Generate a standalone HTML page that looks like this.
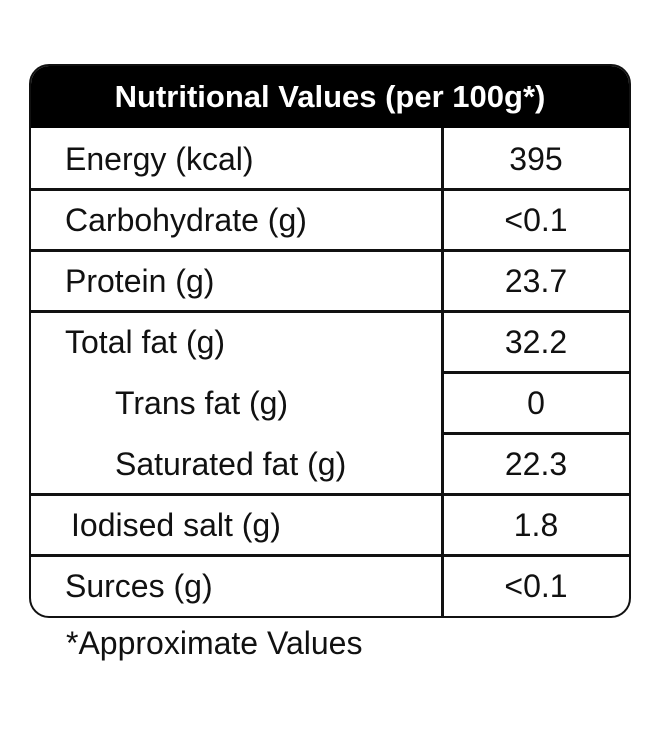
<!DOCTYPE html>
<html><head><meta charset="utf-8"><style>
body{margin:0;width:658px;height:734px;background:#fff;position:relative;font-family:"Liberation Sans Narrow","Liberation Sans",sans-serif;font-stretch:condensed;color:#111;overflow:hidden}
.t{position:absolute;left:29px;top:64px;width:598px;height:550px;border:2.5px solid #111;border-radius:20px;overflow:hidden}
.hd{position:absolute;left:0;top:0;width:100%;height:62px;background:#000;color:#fff;font-weight:bold;font-size:31px;text-align:center;line-height:62px}
.h{position:absolute;height:2.5px;background:#111}
.v{position:absolute;left:410px;top:62px;width:2.5px;height:490px;background:#111}
.l{position:absolute;font-size:32px;line-height:61px;height:61px}
.r{position:absolute;left:412px;width:186px;text-align:center;font-size:32px;line-height:61px;height:61px}
.n{position:absolute;left:66px;top:625px;font-size:32px}
</style></head><body>
<div class="t">
<div class="hd">Nutritional Values (per 100g*)</div>
<div class="v"></div>
<div class="h" style="left:0;width:598px;top:122px"></div>
<div class="h" style="left:0;width:598px;top:183px"></div>
<div class="h" style="left:0;width:598px;top:244px"></div>
<div class="h" style="left:410px;width:188px;top:305px"></div>
<div class="h" style="left:410px;width:188px;top:366px"></div>
<div class="h" style="left:0;width:598px;top:427px"></div>
<div class="h" style="left:0;width:598px;top:488px"></div>

<div class="l" style="left:34px;top:63px">Energy (kcal)</div>
<div class="r" style="top:63px">395</div>
<div class="l" style="left:34px;top:124px">Carbohydrate (g)</div>
<div class="r" style="top:124px">&lt;0.1</div>
<div class="l" style="left:34px;top:185px">Protein (g)</div>
<div class="r" style="top:185px">23.7</div>
<div class="l" style="left:34px;top:246px">Total fat (g)</div>
<div class="r" style="top:246px">32.2</div>
<div class="l" style="left:84px;top:307px">Trans fat (g)</div>
<div class="r" style="top:307px">0</div>
<div class="l" style="left:84px;top:368px">Saturated fat (g)</div>
<div class="r" style="top:368px">22.3</div>
<div class="l" style="left:40px;top:429px">Iodised salt (g)</div>
<div class="r" style="top:429px">1.8</div>
<div class="l" style="left:34px;top:490px">Surces (g)</div>
<div class="r" style="top:490px">&lt;0.1</div>
</div>
<div class="n">*Approximate Values</div>
</body></html>
